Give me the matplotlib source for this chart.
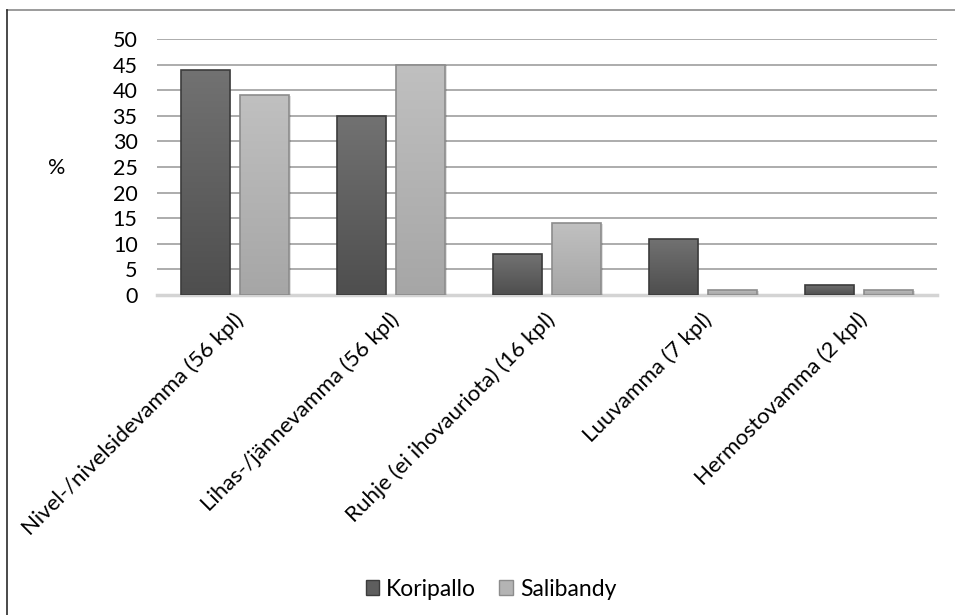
import numpy as np
import matplotlib
matplotlib.use("Agg")
import matplotlib.pyplot as plt
from matplotlib.lines import Line2D
from matplotlib.patches import Rectangle

plt.rcParams['font.family'] = ['Lato', 'DejaVu Sans']

categories = [
    "Nivel-/nivelsidevamma (56 kpl)",
    "Lihas-/jännevamma (56 kpl)",
    "Ruhje (ei ihovauriota) (16 kpl)",
    "Luuvamma (7 kpl)",
    "Hermostovamma (2 kpl)",
]
koripallo = [44, 35, 8, 11, 2]
salibandy = [39, 45, 14, 1, 1]
series_names = ["Koripallo", "Salibandy"]
yticks = [0, 5, 10, 15, 20, 25, 30, 35, 40, 45, 50]

W, H = 955, 615
fig = plt.figure(figsize=(W / 100, H / 100), dpi=100)
ax = fig.add_axes([157 / W, 1 - 295 / H, 780 / W, 256 / H])

x = np.arange(len(categories))
width = 0.31
offset = 0.19

styles = [
    dict(top="#727272", bottom="#4e4e4e", edge="#3c3c3c"),
    dict(top="#c0c0c0", bottom="#a6a6a6", edge="#8c8c8c"),
]


def gradient_bars(ax, xs, vals, st, z):
    bars = ax.bar(xs, vals, width, color="none", edgecolor=st["edge"],
                  linewidth=1.2, zorder=z + 1)
    grad = np.linspace(0, 1, 256).reshape(-1, 1)
    cmap = matplotlib.colors.LinearSegmentedColormap.from_list(
        "g", [st["bottom"], st["top"]])
    for b in bars:
        bx, by = b.get_x(), b.get_y()
        bw, bh = b.get_width(), b.get_height()
        # soft shadow behind the bar
        sh = Rectangle((bx + 0.012, by), bw, bh - 0.15, facecolor="#000000",
                       alpha=0.12, edgecolor="none", zorder=z - 0.5)
        ax.add_patch(sh)
        im = ax.imshow(grad, extent=[bx, bx + bw, by, by + bh], origin="lower",
                       cmap=cmap, aspect="auto", zorder=z, interpolation="bicubic")
        im.set_clip_path(b)
    return bars


gradient_bars(ax, x - offset, koripallo, styles[0], 3)
gradient_bars(ax, x + offset, salibandy, styles[1], 3)

ax.set_xlim(-0.5, len(categories) - 0.5)
ax.set_ylim(0, 50)
ax.set_yticks(yticks)
ax.yaxis.grid(True, color="#a6a6a6", linewidth=1.3)
ax.set_axisbelow(True)
for s in ["top", "right", "left"]:
    ax.spines[s].set_visible(False)
ax.spines["bottom"].set_color("#d4d4d4")
ax.spines["bottom"].set_linewidth(2.5)
ax.spines["bottom"].set_zorder(2)
ax.tick_params(axis="y", length=0, labelsize=15.5, pad=14, colors="#000000")
ax.tick_params(axis="x", length=0, pad=6)
ax.set_xticks(x)
ax.set_xticklabels(categories, rotation=45, ha="right", va="top",
                   rotation_mode="anchor", fontsize=16)
for lbl in ax.get_xticklabels():
    lbl.set_transform(lbl.get_transform() + matplotlib.transforms.ScaledTranslation(-2 / 100, -6 / 100, fig.dpi_scale_trans))

fig.text(57 / W, 1 - 168 / H, "%", fontsize=15.5, ha="center", va="center")

# legend
handles = [
    Rectangle((0, 0), 1, 1, facecolor="#5e5e5e", edgecolor="#3c3c3c"),
    Rectangle((0, 0), 1, 1, facecolor="#b4b4b4", edgecolor="#8c8c8c"),
]
fig.legend(handles, series_names, loc="center", bbox_to_anchor=(491 / W, 1 - 589 / H),
           ncol=2, frameon=False, fontsize=16.5, handlelength=0.6, handleheight=0.6,
           handletextpad=0.3, columnspacing=1.0)

# chart frame
fig.add_artist(Line2D([7 / W, 1], [1 - 10 / H, 1 - 10 / H], color="#8a8a8a", linewidth=1.2,
                      transform=fig.transFigure))
fig.add_artist(Line2D([7 / W, 7 / W], [0, 1 - 10 / H], color="#2a2a2a", linewidth=1.2,
                      transform=fig.transFigure))

fig.savefig("out.png", dpi=100)
